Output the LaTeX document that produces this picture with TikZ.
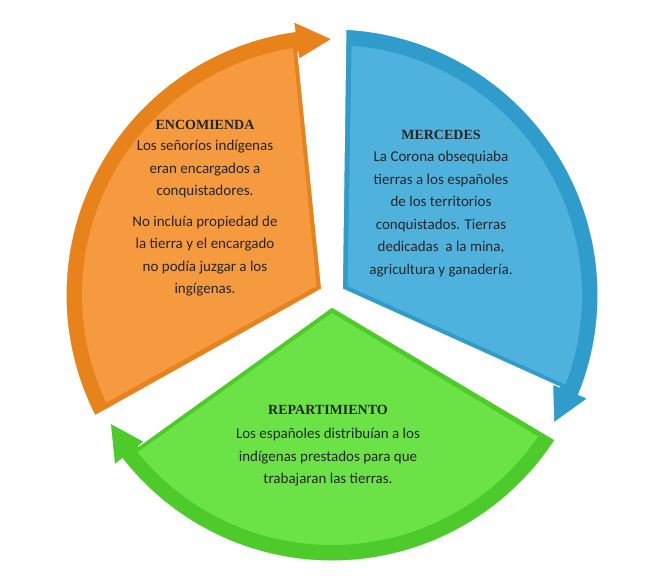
\documentclass[tikz,border=0pt]{standalone}
\usepackage{fontspec}
\setmainfont{Carlito}
\newfontfamily\titlefont{Liberation Serif}
\usetikzlibrary{calc}
\definecolor{orA}{HTML}{E8831C}\definecolor{orB}{HTML}{F59A3E}
\definecolor{blA}{HTML}{2F9CCB}\definecolor{blB}{HTML}{4FB2DD}
\definecolor{grA}{HTML}{4CCB2A}\definecolor{grB}{HTML}{6BE346}
\tikzset{
  ttl/.style={font=\titlefont\bfseries\fontsize{14}{16}\selectfont, text=black!85},
  body/.style={font=\fontsize{15}{22.5}\selectfont, align=center, text=black!85},
  rim/.style={draw=white, line width=1pt}
}
\newcommand{\segm}[4]{% start, end, dark, light
  \fill[#3,rim] ({(#1+#2)/2}:12) -- ({#1-3}:266) arc[start angle={#1-3}, end angle={#2+8}, radius=266]
    -- ({#2+8}:276) -- ({#2}:256) -- ({#2+8}:238) -- ({#2+8}:246) -- cycle;
  \fill[#4] ({(#1+#2)/2}:18) -- ({#1-4.5}:250) arc[start angle={#1-4.5}, end angle={#2+9}, radius=250] -- cycle;
}
\begin{document}
\begin{tikzpicture}[x=1pt,y=1pt]
\useasboundingbox (0,0) rectangle (650,587);
\fill[white] (0,0) rectangle (650,587);
\begin{scope}[shift={(332,292)}]
\segm{210}{90}{orA}{orB}
\segm{90}{-30}{blA}{blB}
\segm{-30}{-150}{grA}{grB}
\end{scope}
\node[ttl] (t1) at (205,462) {ENCOMIENDA};
\node[body,anchor=north] (b1) at (205,450) {Los señoríos indígenas\\eran encargados a\\conquistadores.\\[8pt]No incluía propiedad de\\la tierra y el encargado\\no podía juzgar a los\\ingígenas.};
\node[ttl] (t2) at (441,452) {MERCEDES};
\node[body,anchor=north] (b2) at (441,439) {La Corona obsequiaba\\tierras a los españoles\\de los territorios\\conquistados. Tierras\\dedicadas\ \ a la mina,\\agricultura y ganadería.};
\node[ttl] (t3) at (328,177) {REPARTIMIENTO};
\node[body,anchor=north] (b3) at (328,162) {Los españoles distribuían a los\\indígenas prestados para que\\trabajaran las tierras.};
\end{tikzpicture}
\end{document}
